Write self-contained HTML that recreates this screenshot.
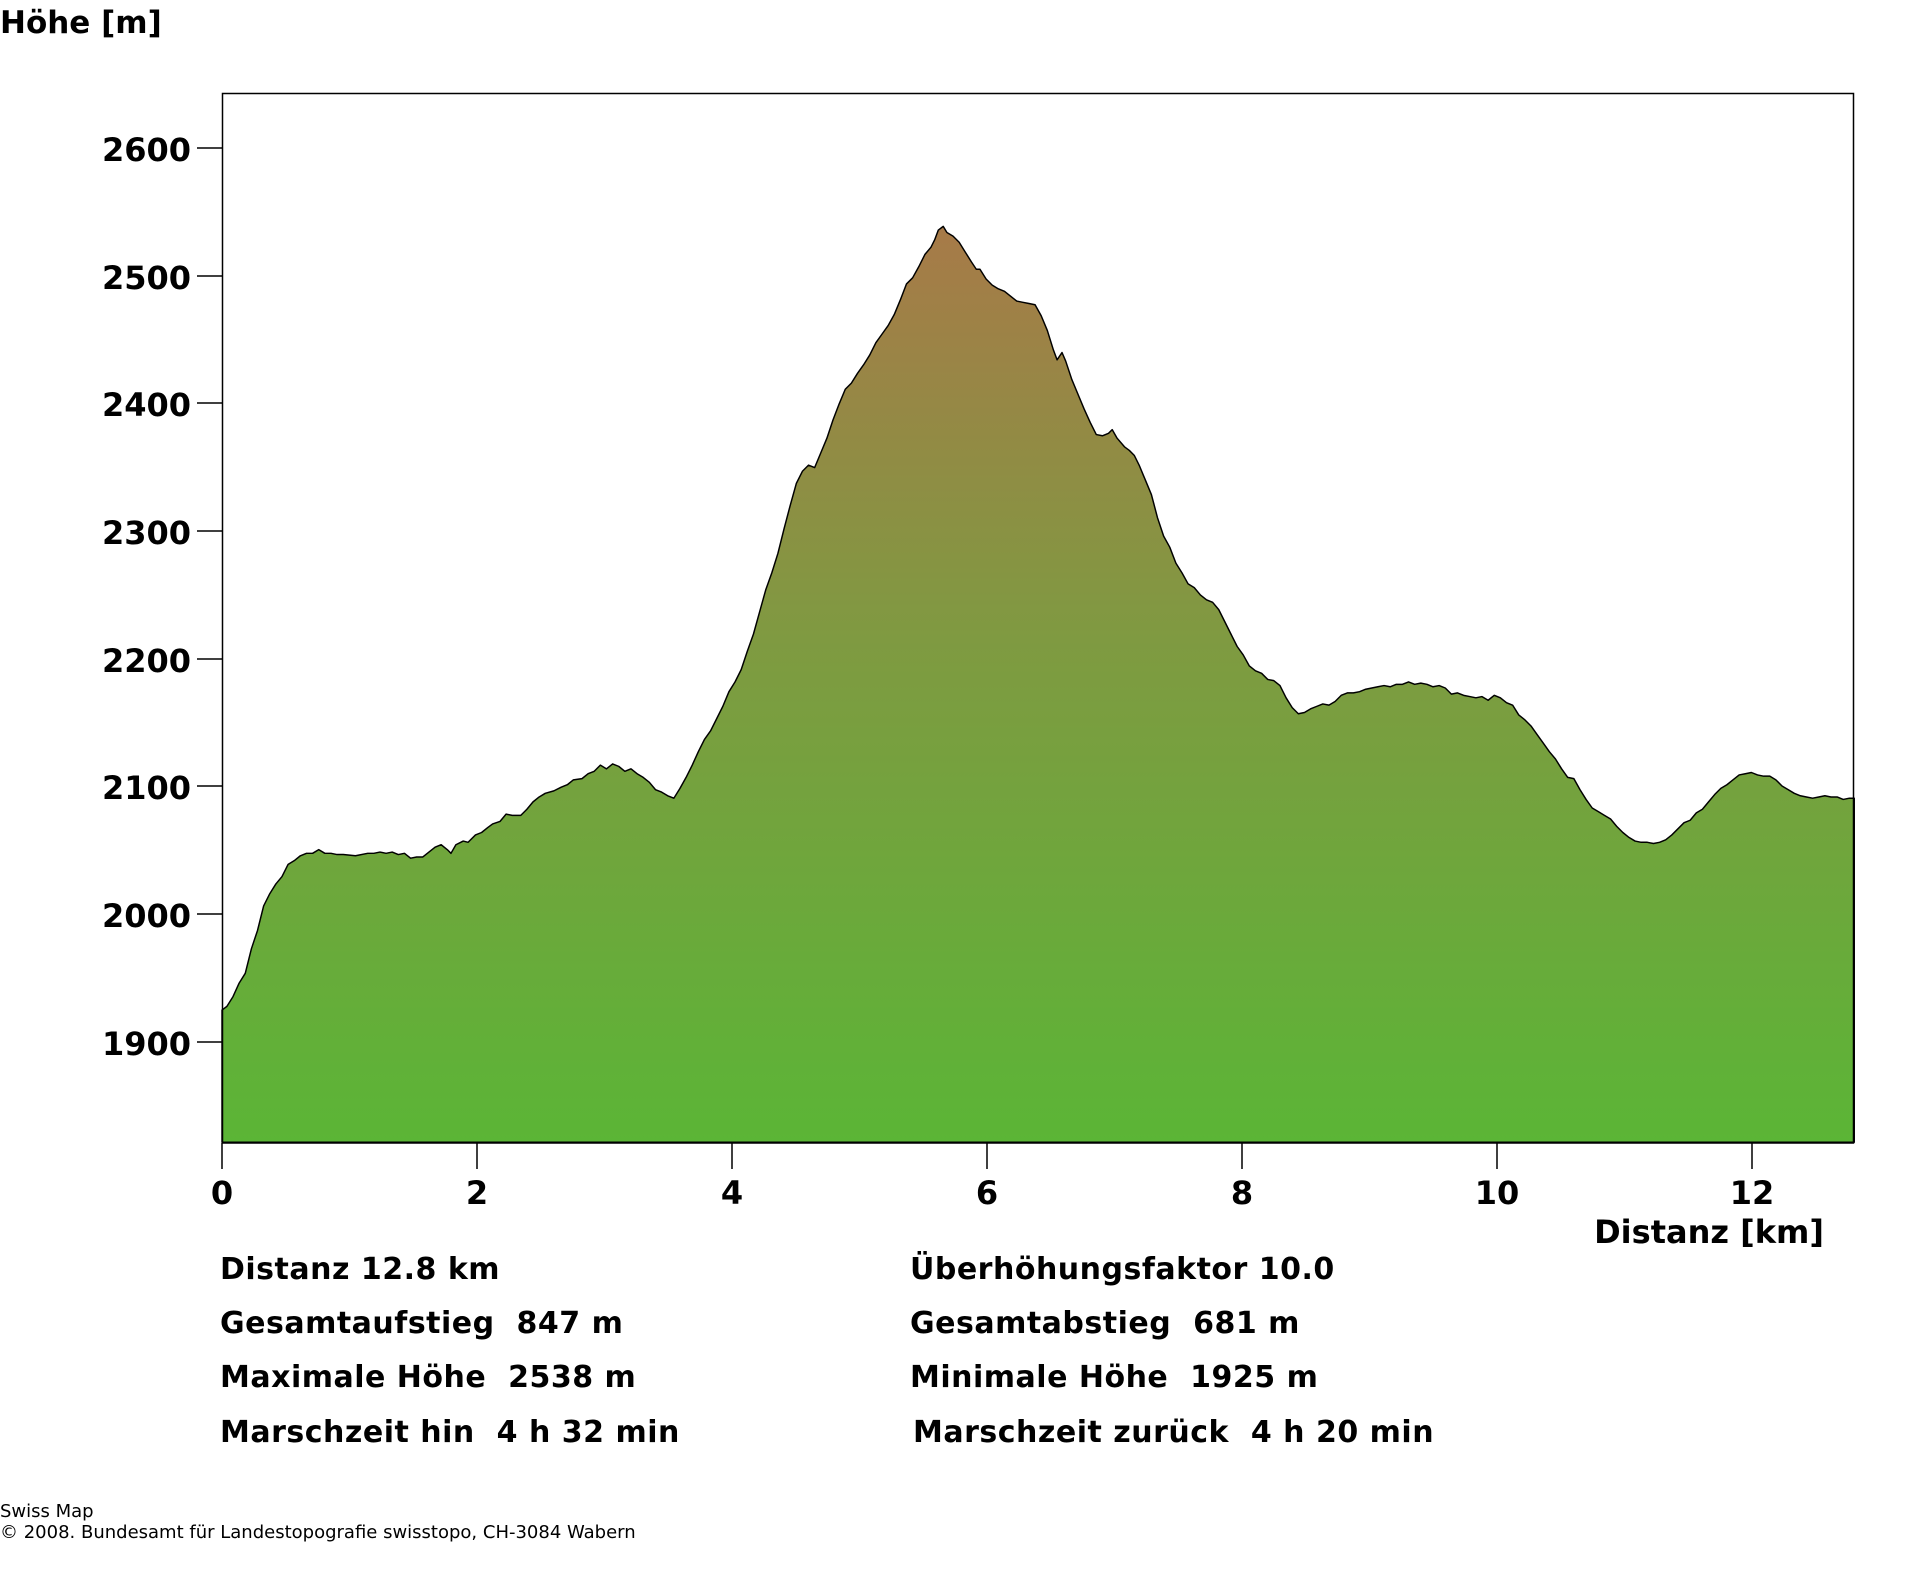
<!DOCTYPE html>
<html><head><meta charset="utf-8"><style>
html,body{margin:0;padding:0;background:#fff;}
body{width:1920px;height:1572px;overflow:hidden;}
svg text{font-family:"DejaVu Sans","Liberation Sans",sans-serif;fill:#000;}
.b{font-weight:bold;}
</style></head><body>
<svg width="1920" height="1572" viewBox="0 0 1920 1572" xmlns="http://www.w3.org/2000/svg">
<defs>
<linearGradient id="g" gradientUnits="userSpaceOnUse" x1="0" y1="185" x2="0" y2="933">
<stop offset="0" stop-color="#a77a48"/>
<stop offset="0.45" stop-color="#7f9a41"/>
<stop offset="1" stop-color="#5bb536"/>
</linearGradient>
</defs>
<text x="0" y="33" class="b" font-size="31">Höhe [m]</text>
<g transform="translate(222,148) scale(1.2245) translate(-181,-121)">
<path fill="url(#g)" stroke="#000" stroke-width="1.2" stroke-linejoin="round" d="M181,825 L185,822 190,814 195,803 200,795 205,775 210,760 215,740 220,730 225,722 230,716 235,706 240,703 245,699 250,697 255,697 260,694 265,697 270,697 275,698 280,698 290,699 300,697 305,697 310,696 315,697 320,696 325,698 330,697 335,701 340,700 345,700 350,696 355,692 360,690 365,694 368,697 372,690 378,687 382,688 388,682 393,680 398,676 402,673 408,671 413,665 418,666 425,666 430,661 435,655 440,651 445,648 452,646 458,643 463,641 468,637 475,636 480,632 485,630 490,625 495,628 500,624 505,626 510,630 515,628 520,632 525,635 530,639 535,645 540,647 545,650 550,652 555,644 560,635 565,625 570,614 575,604 580,597 585,587 590,577 595,565 600,557 605,547 610,532 615,518 620,500 625,482 630,468 635,452 640,432 645,413 650,395 655,385 660,380 665,382 670,370 675,358 680,343 685,330 690,318 695,313 700,305 705,298 710,290 715,280 720,273 725,266 730,257 735,245 740,232 745,227 750,218 755,208 760,202 763,196 766,188 770,185 773,190 778,193 783,198 788,206 793,214 797,220 800,220 805,228 810,233 815,236 820,238 825,242 830,246 835,247 840,248 845,249 850,258 855,270 860,286 863,294 867,288 870,295 875,310 880,322 885,334 890,345 895,355 900,356 905,354 908,351 912,358 918,365 922,368 926,372 930,380 935,392 940,404 945,423 950,438 955,447 960,460 965,468 970,477 975,480 980,486 985,490 990,492 995,498 1000,508 1005,518 1010,528 1015,535 1020,544 1025,548 1030,550 1035,555 1040,556 1045,560 1050,570 1055,578 1060,583 1065,582 1070,579 1075,577 1080,575 1085,576 1090,573 1095,568 1100,566 1105,566 1110,565 1115,563 1120,562 1125,561 1130,560 1135,561 1140,559 1145,559 1150,557 1155,559 1160,558 1165,559 1170,561 1175,560 1180,562 1185,567 1190,566 1195,568 1200,569 1205,570 1210,569 1215,572 1220,568 1225,570 1230,574 1235,576 1240,584 1245,588 1250,593 1255,600 1260,607 1265,614 1270,620 1275,628 1280,635 1285,636 1290,645 1295,653 1300,660 1305,663 1310,666 1315,669 1320,675 1325,680 1330,684 1335,687 1340,688 1345,688 1350,689 1355,688 1360,686 1365,682 1370,677 1375,672 1380,670 1385,664 1390,661 1395,655 1400,649 1405,644 1410,641 1415,637 1420,633 1425,632 1430,631 1435,633 1440,634 1445,634 1450,637 1455,642 1460,645 1465,648 1470,650 1475,651 1480,652 1485,651 1490,650 1495,651 1500,651 1505,653 1510,652 1514,652 L1514,933 L181,933 Z"/>
</g>
<rect x="222.5" y="93.5" width="1631" height="1049.5" fill="none" stroke="#000" stroke-width="1.5"/>
<g stroke="#000" stroke-width="1.5">
<line x1="197" y1="148" x2="222" y2="148"/>
<line x1="197" y1="276" x2="222" y2="276"/>
<line x1="197" y1="403" x2="222" y2="403"/>
<line x1="197" y1="531" x2="222" y2="531"/>
<line x1="197" y1="659" x2="222" y2="659"/>
<line x1="197" y1="786" x2="222" y2="786"/>
<line x1="197" y1="914" x2="222" y2="914"/>
<line x1="197" y1="1042" x2="222" y2="1042"/>
<line x1="222" y1="1143" x2="222" y2="1169"/>
<line x1="477" y1="1143" x2="477" y2="1169"/>
<line x1="732" y1="1143" x2="732" y2="1169"/>
<line x1="987" y1="1143" x2="987" y2="1169"/>
<line x1="1242" y1="1143" x2="1242" y2="1169"/>
<line x1="1497" y1="1143" x2="1497" y2="1169"/>
<line x1="1752" y1="1143" x2="1752" y2="1169"/>
</g>
<g class="b" font-size="32" text-anchor="end">
<text x="191" y="161">2600</text>
<text x="191" y="289">2500</text>
<text x="191" y="416">2400</text>
<text x="191" y="544">2300</text>
<text x="191" y="672">2200</text>
<text x="191" y="799">2100</text>
<text x="191" y="927">2000</text>
<text x="191" y="1055">1900</text>
</g>
<g class="b" font-size="32" text-anchor="middle">
<text x="222" y="1204">0</text>
<text x="477" y="1204">2</text>
<text x="732" y="1204">4</text>
<text x="987" y="1204">6</text>
<text x="1242" y="1204">8</text>
<text x="1497" y="1204">10</text>
<text x="1752" y="1204">12</text>
</g>
<text x="1824" y="1243" class="b" font-size="32" text-anchor="end">Distanz [km]</text>
<g class="b" font-size="30" letter-spacing="0.5">
<text x="220" y="1279">Distanz 12.8 km</text>
<text x="220" y="1333">Gesamtaufstieg&#160; 847 m</text>
<text x="220" y="1387">Maximale Höhe&#160; 2538 m</text>
<text x="220" y="1442">Marschzeit hin&#160; 4 h 32 min</text>
<text x="910" y="1279">Überhöhungsfaktor 10.0</text>
<text x="910" y="1333">Gesamtabstieg&#160; 681 m</text>
<text x="910" y="1387">Minimale Höhe&#160; 1925 m</text>
<text x="913" y="1442">Marschzeit zurück&#160; 4 h 20 min</text>
</g>
<text x="0" y="1517" font-size="18">Swiss Map</text>
<text x="0" y="1538" font-size="18">© 2008. Bundesamt für Landestopografie swisstopo, CH-3084 Wabern</text>
</svg>
</body></html>
